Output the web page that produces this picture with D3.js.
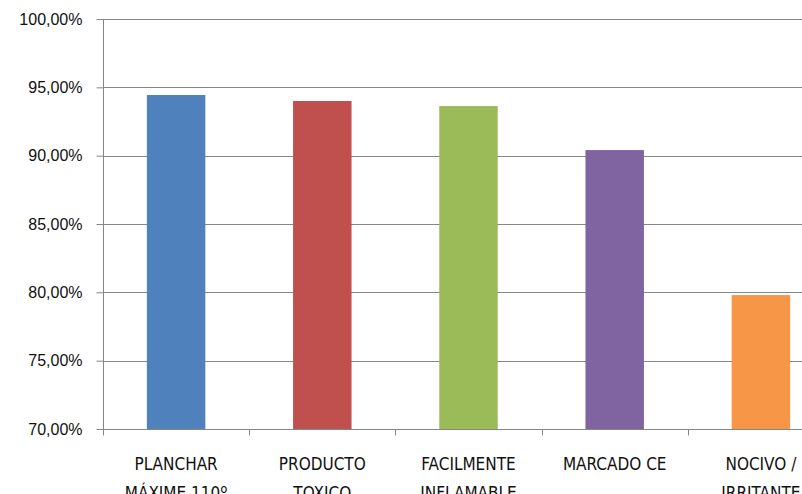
<!DOCTYPE html>
<html><head><meta charset="utf-8">
<script src="https://cdn.jsdelivr.net/npm/d3@7"></script>
<style>body{margin:0;background:#fff}svg{display:block}</style>
</head><body>
<script>
const categories = [["PLANCHAR","MÁXIME 110º"],["PRODUCTO","TOXICO"],["FACILMENTE","INFLAMABLE"],["MARCADO CE"],["NOCIVO /","IRRITANTE"]];
const values = [0.9444, 0.9400, 0.9363, 0.9041, 0.7980];
const colors = ["#4F81BD","#C0504D","#9BBB59","#8064A2","#F79646"];
const yTicks = [0.70,0.75,0.80,0.85,0.90,0.95,1.00];

(function(){
const W=802,H=494;
const svg=d3.select("body").append("svg").attr("width",W).attr("height",H);
const mL=103, mT=19, mB=429, mR=834;
const x=d3.scaleBand().domain(d3.range(categories.length)).range([mL,mR]).paddingInner(0.6).paddingOuter(0.3);
const xb=d3.scaleBand().domain(d3.range(categories.length)).range([mL,mR]);
const y=d3.scaleLinear().domain([0.70,1.00]).range([mB,mT]);

// gridlines
svg.append("g").selectAll("line").data(yTicks.slice(1)).join("line")
  .attr("x1",mL).attr("x2",W).attr("y1",d=>Math.round(y(d))+0.5).attr("y2",d=>Math.round(y(d))+0.5)
  .attr("stroke","#868686").attr("stroke-width",1);

// bars
svg.append("g").selectAll("rect").data(values).join("rect")
  .attr("x",(d,i)=>x(i)).attr("width",x.bandwidth())
  .attr("y",d=>y(d)).attr("height",d=>mB-y(d))
  .attr("fill",(d,i)=>colors[i]);

// y axis
const fmt=d=>d3.format(".2f")(d*100).replace(".",",")+"%";
const ya=svg.append("g").attr("transform",`translate(${mL+0.5},0)`)
  .call(d3.axisLeft(y).tickValues(yTicks).tickFormat(fmt).tickSize(7).tickPadding(14));
ya.select(".domain").attr("stroke","#868686").attr("d",`M0,${mT}V${mB}`);
ya.selectAll(".tick line").attr("stroke","#868686");
ya.selectAll(".tick text").attr("font-family","'Liberation Sans',Arial,sans-serif").attr("font-size",16).attr("fill","#111");

// x axis
const xa=svg.append("g").attr("transform",`translate(0,${mB+0.5})`);
xa.append("line").attr("x1",mL).attr("x2",W).attr("stroke","#868686");
const bounds=d3.range(categories.length+1).map(i=>mL+i*xb.bandwidth());
xa.selectAll(".tk").data(bounds).join("line").attr("class","tk")
  .attr("x1",d=>Math.round(d)+0.5).attr("x2",d=>Math.round(d)+0.5).attr("y1",0).attr("y2",6).attr("stroke","#868686");
const lab=svg.append("g").selectAll("text").data(categories).join("text")
  .attr("x",(d,i)=>xb(i)+xb.bandwidth()/2).attr("y",470)
  .attr("text-anchor","middle").attr("font-family","'DejaVu Sans Condensed','DejaVu Sans',sans-serif")
  .style("font-stretch","condensed")
  .attr("font-size",17).attr("fill","#111");
lab.selectAll("tspan").data(d=>d).join("tspan")
  .attr("x",function(){return d3.select(this.parentNode).attr("x");})
  .attr("dy",(d,i)=>i===0?0:29).text(d=>d);
})();
</script>
</body></html>
